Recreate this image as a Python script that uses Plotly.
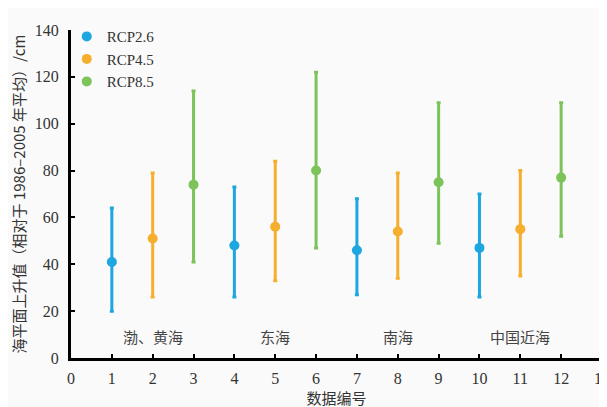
import plotly.graph_objects as go

series_names = ["RCP2.6", "RCP4.5", "RCP8.5"]
series_x = [[1, 4, 7, 10], [2, 5, 8, 11], [3, 6, 9, 12]]
series_mid = [[41, 48, 46, 47], [51, 56, 54, 55], [74, 80, 75, 77]]
series_low = [[20, 26, 27, 26], [26, 33, 34, 35], [41, 47, 49, 52]]
series_high = [[64, 73, 68, 70], [79, 84, 79, 80], [114, 122, 109, 109]]
colors = ["#1DA6E0", "#F6AE2D", "#7CC35A"]

group_labels = ["渤、黄海", "东海", "南海", "中国近海"]
group_x = [2, 5, 8, 11]
group_y = [9, 9, 9, 9]

serif = "Times New Roman, Liberation Serif, serif"
cjk = "Noto Sans CJK SC"

fig = go.Figure()
for name, xs, mid, lo, hi, c in zip(series_names, series_x, series_mid, series_low, series_high, colors):
    fig.add_trace(go.Scatter(
        x=xs, y=mid, mode="markers", name=name,
        marker=dict(color=c, size=10),
        error_y=dict(type="data", symmetric=False,
                     array=[h - m for h, m in zip(hi, mid)],
                     arrayminus=[m - l for m, l in zip(mid, lo)],
                     color=c, thickness=3, width=2),
    ))

for lab, gx, gy in zip(group_labels, group_x, group_y):
    fig.add_annotation(x=gx, y=gy, text=lab, showarrow=False,
                       font=dict(family=cjk, size=15, color="#444"))

fig.update_layout(
    width=607, height=407,
    margin=dict(l=63, r=13, t=14, b=57),
    paper_bgcolor="#fafafa", plot_bgcolor="#fafafa",
    showlegend=True,
    legend=dict(x=-0.008, y=1.03, xanchor="left", yanchor="top",
                font=dict(family=serif, size=15, color="#333"),
                bgcolor="rgba(0,0,0,0)", itemwidth=30, tracegroupgap=0),
    font=dict(family=serif, color="#333"),
)
fig.update_xaxes(range=[0, 13], dtick=1, tick0=0, showgrid=False, zeroline=False,
                 showline=True, linecolor="black", linewidth=3,
                 ticks="inside", ticklen=4, tickwidth=2, tickcolor="black",
                 tickfont=dict(family=serif, size=16, color="#333"),
                 ticklabelstandoff=4, ticklabeloverflow="allow", automargin=False,
                 title=dict(text="数据编号", font=dict(family=cjk, size=15, color="#333"), standoff=0))
fig.update_yaxes(range=[0, 140], dtick=20, tick0=0, showgrid=False, zeroline=False,
                 showline=True, linecolor="black", linewidth=3,
                 ticks="inside", ticklen=4, tickwidth=2, tickcolor="black",
                 tickfont=dict(family=serif, size=16, color="#333"),
                 ticklabelstandoff=6, ticklabeloverflow="allow", automargin=False,
                 title=dict(text="海平面上升值（相对于 1986–2005 年平均）/cm",
                            font=dict(family=cjk, size=15, color="#333"), standoff=12))

fig.write_html("out.html")
